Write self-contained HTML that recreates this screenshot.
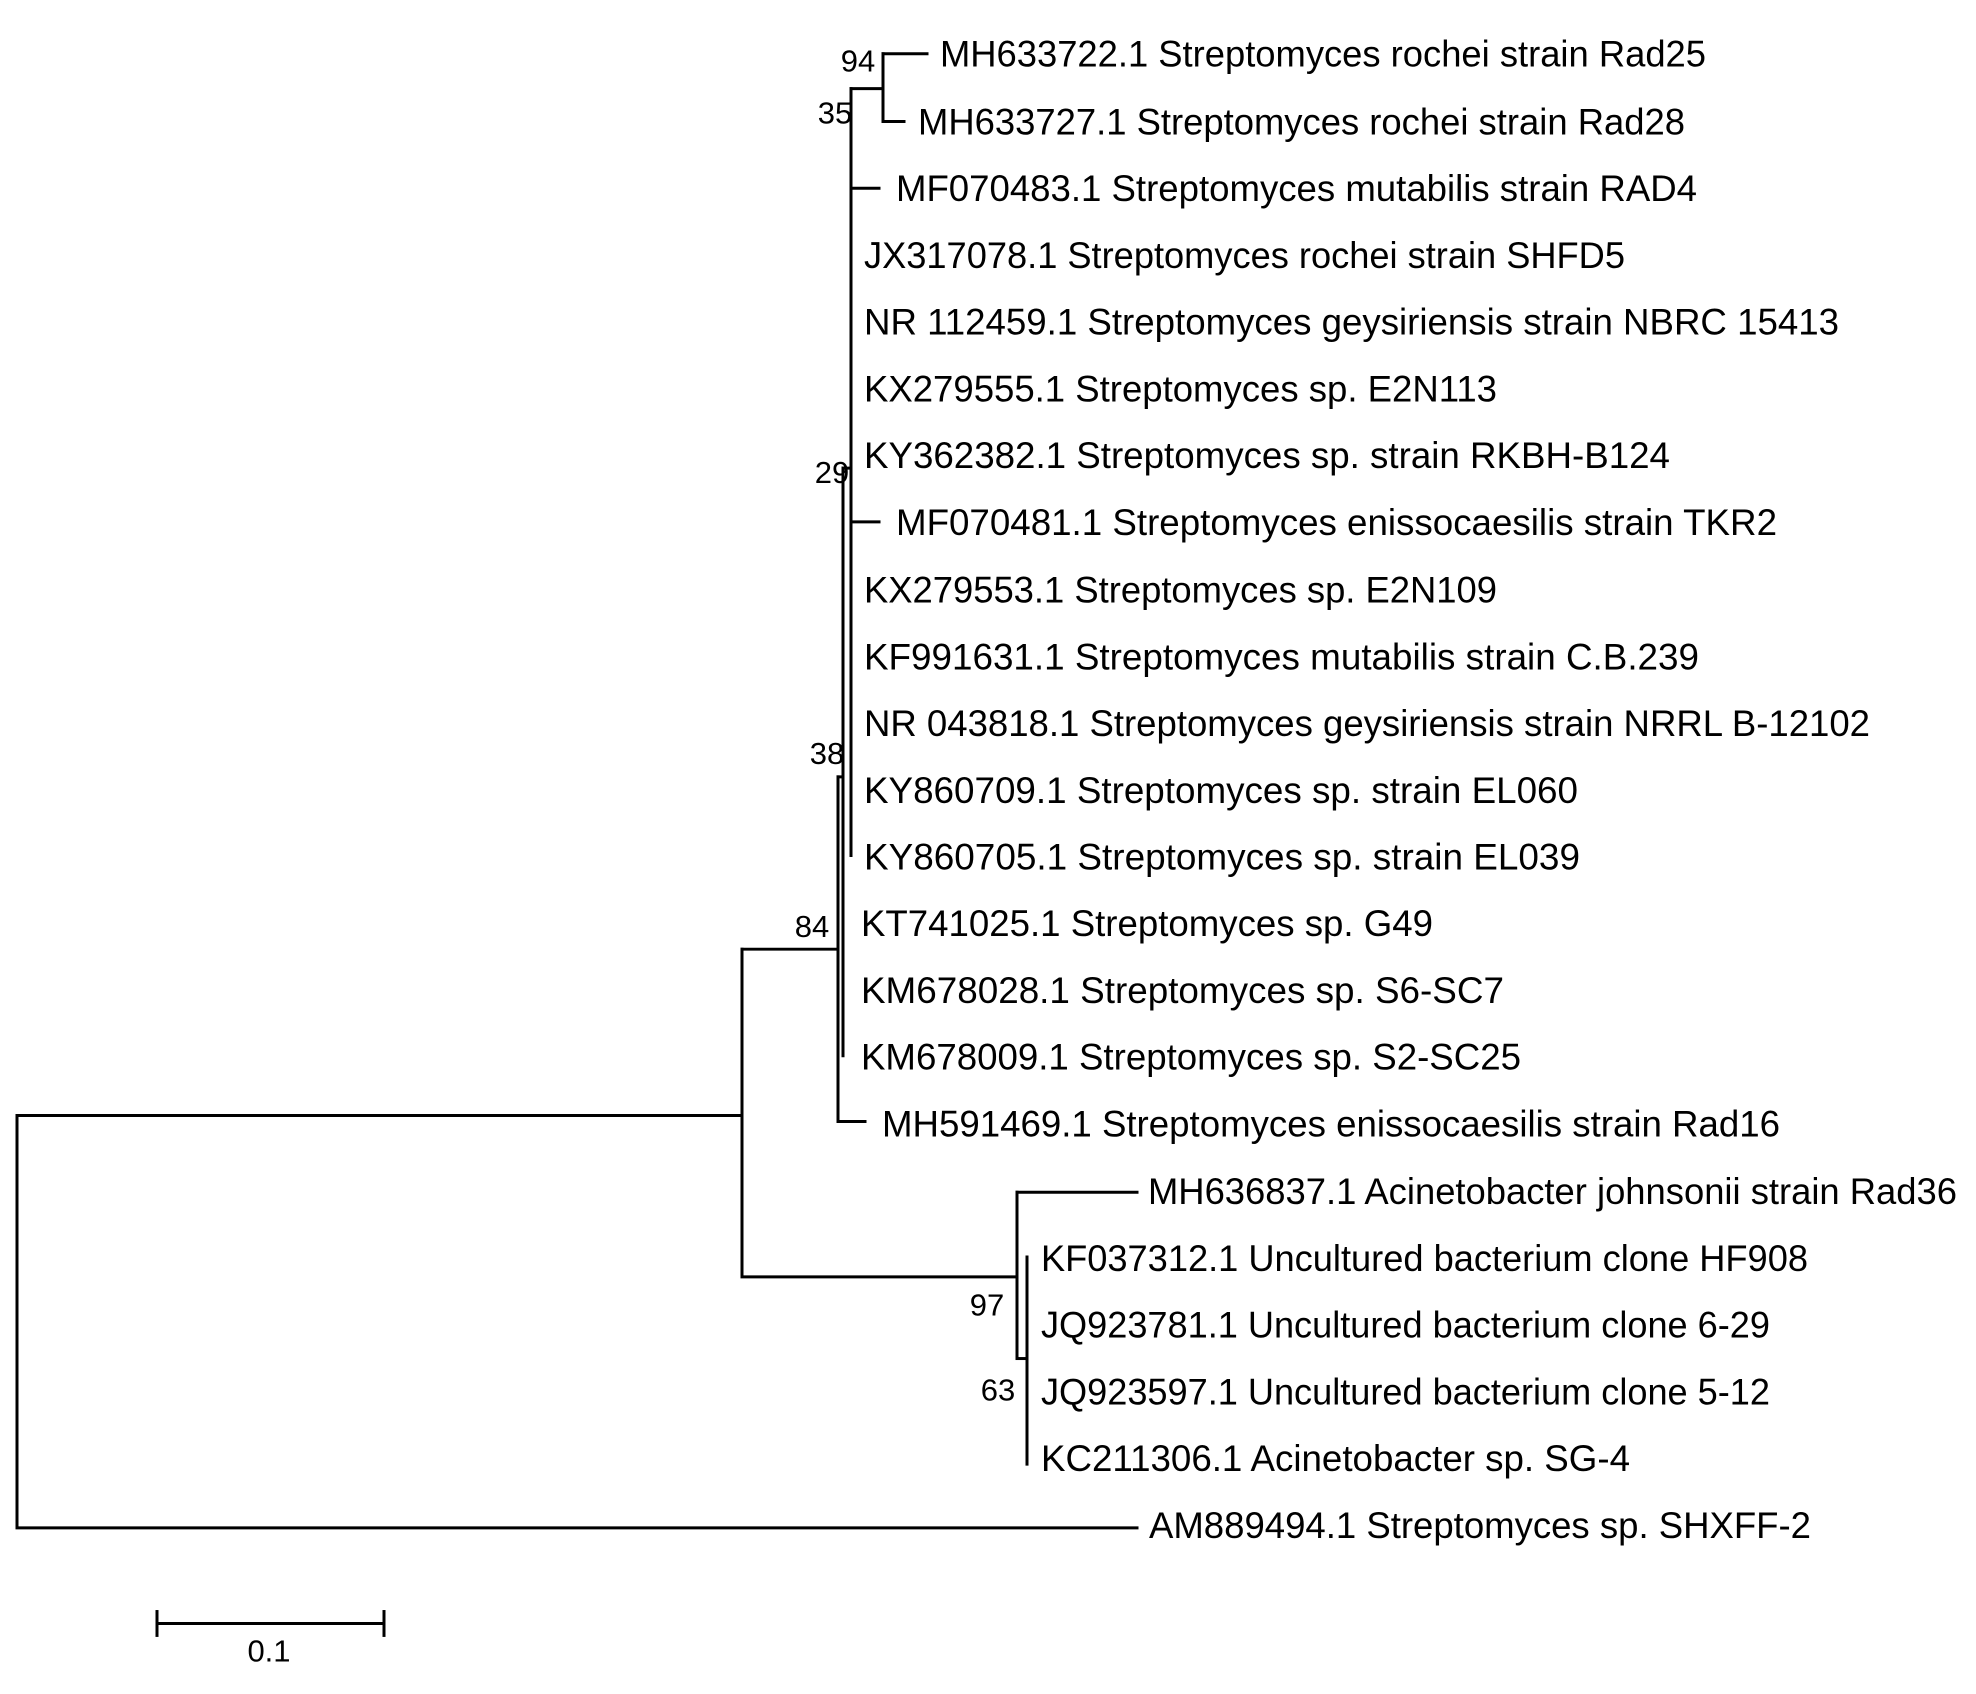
<!DOCTYPE html>
<html><head><meta charset="utf-8"><style>html,body{margin:0;padding:0;background:#fff}svg{display:block}</style></head><body>
<svg width="1976" height="1694" viewBox="0 0 1976 1694" xmlns="http://www.w3.org/2000/svg">
<g transform="matrix(1 0 0 0.996 0 0)">
<g stroke="#000" stroke-width="3" fill="none" stroke-linecap="square">
<path d="M17 1120 V1534 H1137"/>
<path d="M17 1120 H742"/>
<path d="M742 953 V1282 H1017"/>
<path d="M742 953 H838"/>
<path d="M838 780 V1126 H865"/>
<path d="M838 780 H843"/>
<path d="M843 470 V1060"/>
<path d="M843 470 H851"/>
<path d="M851 89 V859"/>
<path d="M851 89 H883"/>
<path d="M883 54 V122"/>
<path d="M883 54 H927"/>
<path d="M883 122 H904"/>
<path d="M851 189 H879"/>
<path d="M851 524 H879"/>
<path d="M1017 1197 V1364"/>
<path d="M1017 1197 H1137"/>
<path d="M1017 1364 H1027"/>
<path d="M1027 1262 V1470"/>
<path d="M157 1630 H384"/>
<path d="M157 1618 V1642"/>
<path d="M384 1618 V1642"/>
</g>
<g font-family="Liberation Sans, Arial, sans-serif" font-size="37" fill="#000">
<text x="940" y="67" textLength="766" lengthAdjust="spacingAndGlyphs">MH633722.1 Streptomyces rochei strain Rad25</text>
<text x="918" y="135" textLength="767" lengthAdjust="spacingAndGlyphs">MH633727.1 Streptomyces rochei strain Rad28</text>
<text x="896" y="202" textLength="801" lengthAdjust="spacingAndGlyphs">MF070483.1 Streptomyces mutabilis strain RAD4</text>
<text x="864" y="269" textLength="761" lengthAdjust="spacingAndGlyphs">JX317078.1 Streptomyces rochei strain SHFD5</text>
<text x="864" y="336" textLength="975" lengthAdjust="spacingAndGlyphs">NR 112459.1 Streptomyces geysiriensis strain NBRC 15413</text>
<text x="864" y="403" textLength="633" lengthAdjust="spacingAndGlyphs">KX279555.1 Streptomyces sp. E2N113</text>
<text x="864" y="470" textLength="806" lengthAdjust="spacingAndGlyphs">KY362382.1 Streptomyces sp. strain RKBH-B124</text>
<text x="896" y="537" textLength="881" lengthAdjust="spacingAndGlyphs">MF070481.1 Streptomyces enissocaesilis strain TKR2</text>
<text x="864" y="605" textLength="633" lengthAdjust="spacingAndGlyphs">KX279553.1 Streptomyces sp. E2N109</text>
<text x="864" y="672" textLength="835" lengthAdjust="spacingAndGlyphs">KF991631.1 Streptomyces mutabilis strain C.B.239</text>
<text x="864" y="739" textLength="1006" lengthAdjust="spacingAndGlyphs">NR 043818.1 Streptomyces geysiriensis strain NRRL B-12102</text>
<text x="864" y="806" textLength="714" lengthAdjust="spacingAndGlyphs">KY860709.1 Streptomyces sp. strain EL060</text>
<text x="864" y="873" textLength="716" lengthAdjust="spacingAndGlyphs">KY860705.1 Streptomyces sp. strain EL039</text>
<text x="861" y="940" textLength="572" lengthAdjust="spacingAndGlyphs">KT741025.1 Streptomyces sp. G49</text>
<text x="861" y="1007" textLength="643" lengthAdjust="spacingAndGlyphs">KM678028.1 Streptomyces sp. S6-SC7</text>
<text x="861" y="1074" textLength="660" lengthAdjust="spacingAndGlyphs">KM678009.1 Streptomyces sp. S2-SC25</text>
<text x="882" y="1141" textLength="898" lengthAdjust="spacingAndGlyphs">MH591469.1 Streptomyces enissocaesilis strain Rad16</text>
<text x="1148" y="1209" textLength="809" lengthAdjust="spacingAndGlyphs">MH636837.1 Acinetobacter johnsonii strain Rad36</text>
<text x="1041" y="1276" textLength="767" lengthAdjust="spacingAndGlyphs">KF037312.1 Uncultured bacterium clone HF908</text>
<text x="1041" y="1343" textLength="729" lengthAdjust="spacingAndGlyphs">JQ923781.1 Uncultured bacterium clone 6-29</text>
<text x="1041" y="1410" textLength="729" lengthAdjust="spacingAndGlyphs">JQ923597.1 Uncultured bacterium clone 5-12</text>
<text x="1041" y="1477" textLength="589" lengthAdjust="spacingAndGlyphs">KC211306.1 Acinetobacter sp. SG-4</text>
<text x="1149" y="1544" textLength="662" lengthAdjust="spacingAndGlyphs">AM889494.1 Streptomyces sp. SHXFF-2</text>
</g>
<g font-family="Liberation Sans, Arial, sans-serif" font-size="31" fill="#000" text-anchor="middle">
<text x="858" y="72">94</text>
<text x="835" y="124">35</text>
<text x="832" y="485">29</text>
<text x="827" y="767">38</text>
<text x="812" y="941">84</text>
<text x="987" y="1321">97</text>
<text x="998" y="1406">63</text>
<text x="269" y="1668">0.1</text>
</g>
</g>
</svg>
</body></html>
